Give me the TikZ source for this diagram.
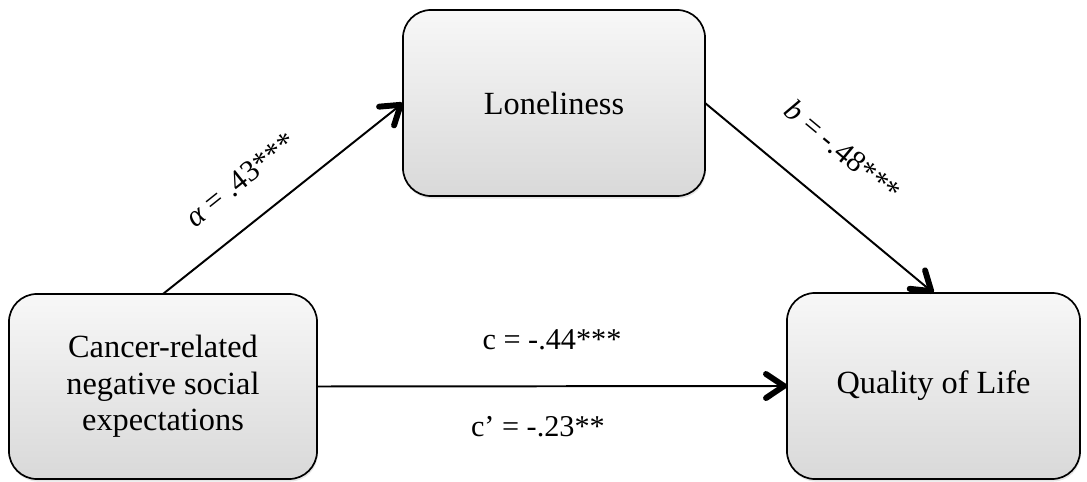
\documentclass[tikz,border=0pt]{standalone}
\usepackage{fontspec}
\setmainfont{Liberation Serif}
\usetikzlibrary{arrows.meta,shadows}
\begin{document}
\begin{tikzpicture}[x=0.025cm,y=0.025cm,
  every node/.style={font=\fontsize{21.5}{24}\selectfont},
  varbox/.style={draw,line width=1.2pt,rounded corners=0.7cm,top color=gray!6,bottom color=gray!30,
    inner sep=0pt,outer sep=0pt,align=center,font=\fontsize{23}{26}\selectfont,
    drop shadow={opacity=0.2,shadow xshift=0.6pt,shadow yshift=-1.8pt}},
  path/.style={line width=1.4pt,-{Straight Barb[length=0.45cm,width=0.6cm,line width=4.2pt,round]}},
  coef/.style={inner sep=0pt}]
\useasboundingbox (0,0) rectangle (1087,481);
% variables
\node[varbox,minimum width=7.7cm,minimum height=4.625cm] (cause) at (163,94.5) {Cancer-related\\negative social\\expectations};
\node[varbox,minimum width=7.55cm,minimum height=4.65cm] (lone) at (554,378) {Loneliness};
\node[varbox,minimum width=7.325cm,minimum height=4.65cm] (qol) at (933.5,95) {Quality of Life};
% paths
\draw[path] (cause.north) -- node[coef,sloped,pos=0.43,above=0.75cm] (pa) {\textit{α} = .43***} (lone.west);
\draw[path] (lone.east) -- node[coef,sloped,pos=0.46,above=1.0cm] (pb) {\textit{b} = -.48***} (qol.north);
\draw[path] (cause.east) -- node[coef,pos=0.5,above=0.875cm] (pc) {c = -.44***}
  node[coef,pos=0.47,below=0.72cm] (pcp) {c’ = -.23**} (qol.west);
\end{tikzpicture}
\end{document}
